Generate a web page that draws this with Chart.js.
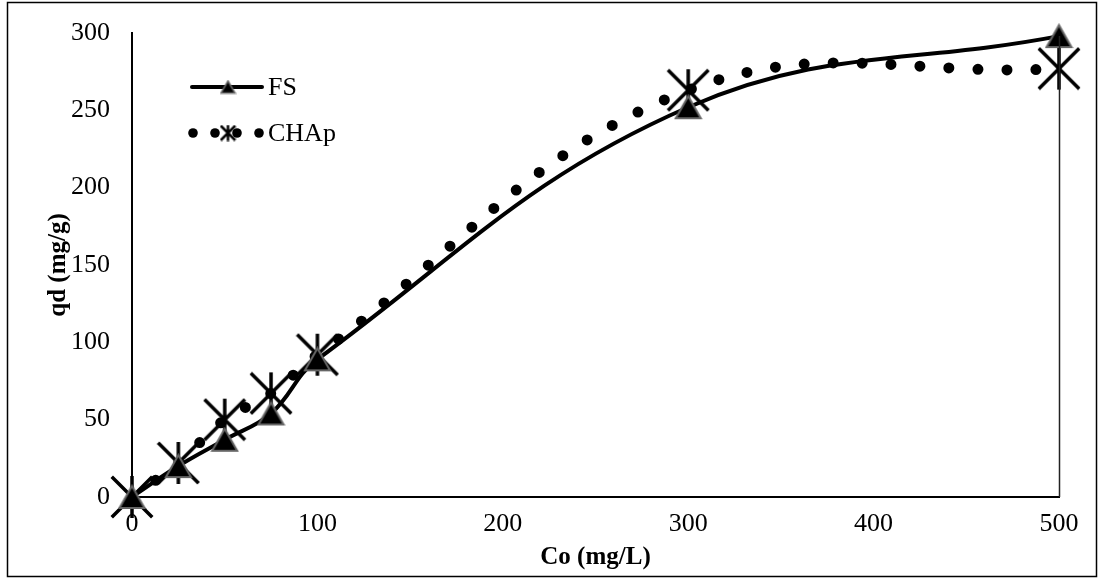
<!DOCTYPE html>
<html>
<head>
<meta charset="utf-8">
<script src="https://cdn.jsdelivr.net/npm/chart.js@4/dist/chart.umd.min.js"></script>
<style>
  html, body { margin: 0; padding: 0; background: #fff; }
  #wrap { width: 1101px; height: 581px; position: relative; }
</style>
</head>
<body>
<div id="wrap"><canvas id="chart" width="1101" height="581"></canvas></div>
<script>
// Initial concentration Co (mg/L)
const co = [0, 25, 50, 75, 100, 300, 500];
// Adsorbed quantity qd (mg/g) for each adsorbent
const fsValues = [0, 20, 37, 54, 89, 252, 298];
const chapValues = [0, 22, 50, 67, 92, 263, 277];
const seriesNames = ['FS', 'CHAp'];
// Axis ranges and tick steps
const xTickStep = 100, xMax = 500;
const yTickStep = 50, yMax = 300;

const FONT = "'Liberation Serif', 'Times New Roman', serif";

// Filled triangle marker with grey outline
function makeTriangle(w, h, lw) {
  const c = document.createElement('canvas');
  c.width = w; c.height = h;
  const g = c.getContext('2d');
  g.beginPath();
  g.moveTo(w / 2, lw);
  g.lineTo(w - lw, h - lw);
  g.lineTo(lw, h - lw);
  g.closePath();
  g.fillStyle = '#000';
  g.fill();
  g.lineWidth = lw;
  g.strokeStyle = '#666';
  g.stroke();
  return c;
}
// Asterisk-like marker: an X with a vertical bar
function makeStar(s, vh, lw) {
  const c = document.createElement('canvas');
  c.width = s; c.height = s;
  const g = c.getContext('2d');
  g.strokeStyle = '#000';
  g.lineWidth = lw;
  g.lineCap = 'butt';
  const m = lw / 2;
  g.beginPath();
  g.moveTo(m, m); g.lineTo(s - m, s - m);
  g.moveTo(s - m, m); g.lineTo(m, s - m);
  g.moveTo(s / 2, (s - vh) / 2); g.lineTo(s / 2, (s + vh) / 2);
  g.stroke();
  return c;
}

const triBig = makeTriangle(29, 26, 2);
const starBig = makeStar(44, 42, 3.5);
const triSmall = makeTriangle(17, 15, 1.5);
const starSmall = makeStar(17, 16, 2.5);

const toPoints = (vals) => co.map((x, i) => ({ x: x, y: vals[i] }));

// Outer frame, vertical guide at the last concentration, and the legend box
const decor = {
  id: 'decor',
  beforeDraw(chart) {
    const g = chart.ctx;
    g.save();
    g.fillStyle = '#fff';
    g.fillRect(0, 0, chart.width, chart.height);
    g.strokeStyle = '#000';
    g.lineWidth = 1.5;
    g.strokeRect(7.5, 2.5, 1089, 574);
    g.restore();
  },
  afterDraw(chart) {
    const g = chart.ctx;
    const xs = chart.scales.x, ys = chart.scales.y;
    const xp = Math.round(xs.getPixelForValue(co[co.length - 1])) + 0.5;
    g.save();
    g.strokeStyle = '#222';
    g.lineWidth = 1.5;
    g.beginPath();
    g.moveTo(xp, ys.getPixelForValue(0));
    g.lineTo(xp, ys.getPixelForValue(fsValues[fsValues.length - 1]));
    g.stroke();

    // legend: FS row
    let y = 87;
    g.strokeStyle = '#000';
    g.lineWidth = 4;
    g.lineCap = 'round';
    g.beginPath(); g.moveTo(192, y); g.lineTo(262, y); g.stroke();
    g.drawImage(triSmall, 228 - triSmall.width / 2, y - triSmall.height / 2);
    g.fillStyle = '#000';
    g.font = '26px ' + FONT;
    g.textBaseline = 'middle';
    g.fillText(seriesNames[0], 268, y + 1);
    // legend: CHAp row
    y = 133;
    [193, 215, 237, 259].forEach(x => {
      g.beginPath(); g.arc(x, y, 4.8, 0, Math.PI * 2); g.fill();
    });
    g.drawImage(starSmall, 228 - starSmall.width / 2, y - starSmall.height / 2);
    g.fillText(seriesNames[1], 268, y + 1);
    g.restore();
  }
};

new Chart(document.getElementById('chart'), {
  type: 'line',
  data: {
    datasets: [
      {
        label: seriesNames[0],
        data: toPoints(fsValues),
        borderColor: '#000',
        borderWidth: 4,
        tension: 0.4,
        clip: false,
        pointStyle: triBig,
        pointRadius: 14,
        pointHoverRadius: 14
      },
      {
        label: seriesNames[1],
        data: toPoints(chapValues),
        borderColor: '#000',
        borderWidth: 11,
        borderDash: [0, 29],
        borderCapStyle: 'round',
        tension: 0.4,
        clip: false,
        pointStyle: starBig,
        pointRadius: 22,
        pointHoverRadius: 22
      }
    ]
  },
  options: {
    responsive: false,
    animation: false,
    events: [],
    layout: { padding: { left: 8, top: 30, right: 42, bottom: 0 } },
    plugins: { legend: { display: false }, tooltip: { enabled: false } },
    scales: {
      x: {
        type: 'linear',
        min: 0, max: xMax,
        afterFit(s) { s.height = 84; },
        ticks: { stepSize: xTickStep, color: '#000', padding: 5, font: { family: FONT, size: 26 } },
        grid: { display: false, drawOnChartArea: false, drawTicks: true, tickLength: 7, tickColor: '#000', tickWidth: 2 },
        border: { display: true, color: '#000', width: 2 },
        title: { display: true, text: 'Co (mg/L)', color: '#000', padding: { top: 0, bottom: 8 }, font: { family: FONT, size: 25, weight: 'bold' } }
      },
      y: {
        min: 0, max: yMax,
        afterFit(s) { s.width = 124; },
        ticks: { stepSize: yTickStep, color: '#000', padding: 15, font: { family: FONT, size: 26 } },
        grid: { display: false, drawOnChartArea: false, drawTicks: true, tickLength: 7, tickColor: '#000', tickWidth: 2 },
        border: { display: true, color: '#000', width: 2 },
        title: { display: true, text: 'qd (mg/g)', color: '#000', padding: { top: 36, bottom: 0 }, font: { family: FONT, size: 25, weight: 'bold' } }
      }
    }
  },
  plugins: [decor]
});
</script>
</body>
</html>
